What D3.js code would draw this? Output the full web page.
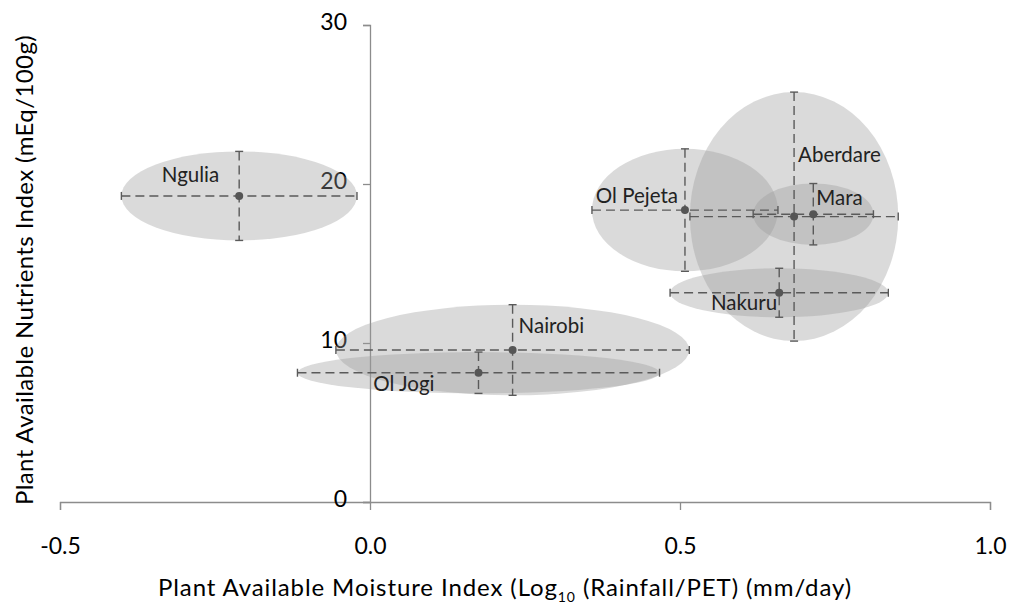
<!DOCTYPE html>
<html>
<head>
<meta charset="utf-8">
<script src="https://cdn.jsdelivr.net/npm/d3@7"></script>
<style>
  body { margin: 0; background: #fff; }
  text { font-family: Lato, "Open Sans", sans-serif; fill: #000; }
</style>
</head>
<body>
<script>
// Sites and their moisture / nutrient means with error half-widths
var sites = ["Ngulia", "Nairobi", "Ol Jogi", "Ol Pejeta", "Aberdare", "Mara", "Nakuru"];
var moisture = [-0.211, 0.230, 0.175, 0.508, 0.684, 0.715, 0.660];
var moistureErr = [0.190, 0.285, 0.292, 0.150, 0.168, 0.097, 0.176];
var nutrients = [19.25, 9.56, 8.13, 18.36, 17.95, 18.10, 13.16];
var nutrientsErr = [2.80, 2.85, 1.30, 3.85, 7.83, 1.93, 1.54];

var xTicks = [-0.5, 0.0, 0.5, 1.0];
var yTicks = [0, 10, 20, 30];

// label placement relative to the point (style, not data)
var labelPos = {
  "Ngulia":    {dx: -20, dy: -14, anchor: "end"},
  "Nairobi":   {dx: 6,   dy: -17, anchor: "start"},
  "Ol Jogi":   {dx: -44, dy: 18,  anchor: "end"},
  "Ol Pejeta": {dx: -7,  dy: -7,  anchor: "end"},
  "Aberdare":  {dx: 4,   dy: -55, anchor: "start"},
  "Mara":      {dx: 3,   dy: -9,  anchor: "start"},
  "Nakuru":    {dx: -2,  dy: 17,  anchor: "end"}
};

var svgWidth = 1009;
var svgHeight = 608;

var svg = d3.select("body")
  .append("svg")
  .attr("width", svgWidth)
  .attr("height", svgHeight);

var x = d3.scaleLinear().domain([-0.5, 1.0]).range([60, 990]);
var y = d3.scaleLinear().domain([0, 30]).range([502, 25]);

var data = sites.map(function(s, i) {
  return {
    name: s,
    x: moisture[i], xe: moistureErr[i],
    y: nutrients[i], ye: nutrientsErr[i]
  };
});

var axisColor = "#8c8c8c";

// axes
var xAxis = svg.append("g")
  .attr("transform", "translate(0," + y(0) + ")")
  .call(d3.axisBottom(x).tickValues(xTicks).tickSize(8));
xAxis.select(".domain").attr("stroke", axisColor).attr("stroke-width", 1.3);
xAxis.selectAll(".tick line").attr("stroke", axisColor).attr("stroke-width", 1.3);
xAxis.selectAll(".tick text")
  .attr("y", 36)
  .style("font-size", "23px")
  .style("font-family", "Lato, sans-serif")
  .text(function(d) { return d3.format(".1f")(d).replace("\u2212", "-"); });

var yAxis = svg.append("g")
  .attr("transform", "translate(" + x(0) + ",0)")
  .call(d3.axisLeft(y).tickValues(yTicks).tickSize(7));
yAxis.select(".domain").attr("stroke", axisColor).attr("stroke-width", 1.3);
yAxis.selectAll(".tick line").attr("stroke", axisColor).attr("stroke-width", 1.3);
yAxis.selectAll(".tick text")
  .attr("x", -23)
  .attr("dy", "0.2em")
  .style("font-size", "23px")
  .style("font-family", "Lato, sans-serif");

// ellipses
var plot = svg.append("g");
plot.selectAll("ellipse")
  .data(data)
  .enter()
  .append("ellipse")
  .attr("cx", function(d) { return x(d.x); })
  .attr("cy", function(d) { return y(d.y); })
  .attr("rx", function(d) { return x(d.x + d.xe) - x(d.x); })
  .attr("ry", function(d) { return y(d.y - d.ye) - y(d.y); })
  .attr("fill", "#9a9a9a")
  .attr("fill-opacity", 0.37);

// error bars
var barColor = "#5a5a5a";
var bars = plot.selectAll("g.bar")
  .data(data)
  .enter()
  .append("g")
  .attr("class", "bar");

bars.append("line")
  .attr("x1", function(d) { return x(d.x - d.xe); })
  .attr("x2", function(d) { return x(d.x + d.xe); })
  .attr("y1", function(d) { return y(d.y); })
  .attr("y2", function(d) { return y(d.y); })
  .attr("stroke", barColor).attr("stroke-width", 1.4)
  .attr("stroke-dasharray", "9,5");
bars.append("line")
  .attr("x1", function(d) { return x(d.x); })
  .attr("x2", function(d) { return x(d.x); })
  .attr("y1", function(d) { return y(d.y + d.ye); })
  .attr("y2", function(d) { return y(d.y - d.ye); })
  .attr("stroke", barColor).attr("stroke-width", 1.4)
  .attr("stroke-dasharray", "9,5");

// caps
[-1, 1].forEach(function(sgn) {
  bars.append("line")
    .attr("x1", function(d) { return x(d.x + sgn * d.xe); })
    .attr("x2", function(d) { return x(d.x + sgn * d.xe); })
    .attr("y1", function(d) { return y(d.y) - 4; })
    .attr("y2", function(d) { return y(d.y) + 4; })
    .attr("stroke", barColor).attr("stroke-width", 1.4);
  bars.append("line")
    .attr("x1", function(d) { return x(d.x) - 4; })
    .attr("x2", function(d) { return x(d.x) + 4; })
    .attr("y1", function(d) { return y(d.y + sgn * d.ye); })
    .attr("y2", function(d) { return y(d.y + sgn * d.ye); })
    .attr("stroke", barColor).attr("stroke-width", 1.4);
});

bars.append("circle")
  .attr("cx", function(d) { return x(d.x); })
  .attr("cy", function(d) { return y(d.y); })
  .attr("r", 4)
  .attr("fill", "#555");

// site labels
plot.selectAll("text.site")
  .data(data)
  .enter()
  .append("text")
  .attr("class", "site")
  .attr("x", function(d) { return x(d.x) + labelPos[d.name].dx; })
  .attr("y", function(d) { return y(d.y) + labelPos[d.name].dy; })
  .attr("text-anchor", function(d) { return labelPos[d.name].anchor; })
  .style("font-size", "20.5px")
  .style("fill", "#222")
  .text(function(d) { return d.name; });

// axis titles
var xTitle = svg.append("text")
  .attr("x", 505)
  .attr("y", 596)
  .attr("text-anchor", "middle")
  .style("font-size", "24px")
  .style("letter-spacing", "0.9px");
xTitle.append("tspan").text("Plant Available Moisture Index (Log");
xTitle.append("tspan").attr("dy", 6).style("font-size", "14px").text("10");
xTitle.append("tspan").attr("dy", -6).text(" (Rainfall/PET) (mm/day)");

svg.append("text")
  .attr("transform", "translate(33,270) rotate(-90)")
  .attr("text-anchor", "middle")
  .style("font-size", "24px")
  .style("letter-spacing", "0.4px")
  .text("Plant Available Nutrients Index (mEq/100g)");
</script>
</body>
</html>
